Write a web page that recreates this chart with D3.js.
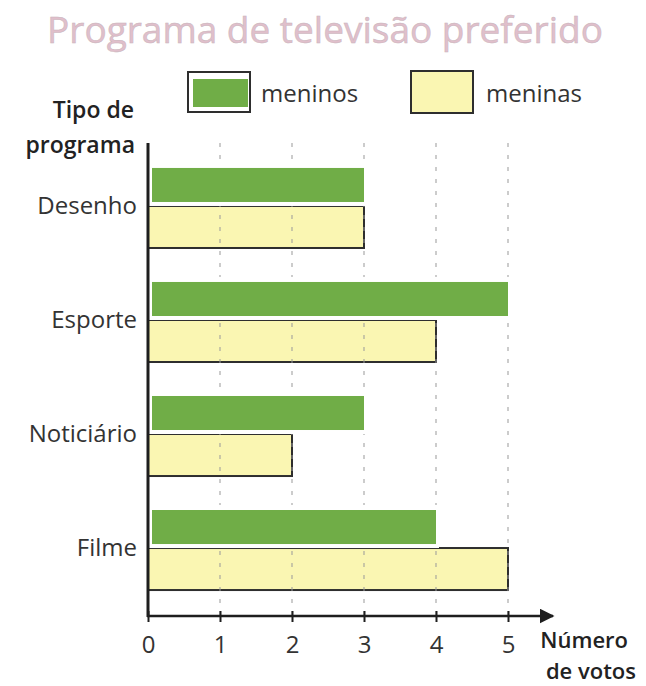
<!DOCTYPE html>
<html>
<head>
<meta charset="utf-8">
<script src="https://cdn.jsdelivr.net/npm/d3@7"></script>
<style>
  body { margin: 0; background: #fff; }
  text { font-family: "Open Sans", "Noto Sans", sans-serif; }
</style>
</head>
<body>
<div id="chart"></div>
<script>
// data
var categories = ["Desenho", "Esporte", "Noticiário", "Filme"];
var series = ["meninos", "meninas"];
var meninos = [3, 5, 3, 4];
var meninas = [3, 4, 2, 5];
var xTicks = [0, 1, 2, 3, 4, 5];

var W = 646, H = 686;
var green = "#70ad47", yellow = "#faf6b2", ink = "#2e2e2e";

var svg = d3.select("#chart")
    .append("svg")
    .attr("width", W)
    .attr("height", H);

var x = d3.scaleLinear().domain([0, 5]).range([148, 508]);

var y = d3.scaleBand()
    .domain(categories)
    .range([148, 606])
    .paddingInner(0.263)
    .paddingOuter(0.14);

var ySub = d3.scaleBand()
    .domain(series)
    .range([0, y.bandwidth()]);

var axisY = 616;

// title
svg.append("text")
    .attr("x", 325)
    .attr("y", 43)
    .attr("text-anchor", "middle")
    .attr("font-size", 37)
    .attr("fill", "#e0bfcb")
    .attr("stroke", "#c8b4bb")
    .attr("stroke-width", 0.5)
    .text("Programa de televisão preferido");

// legend
var legend = [
  {name: "meninos", bx: 188, tx: 261},
  {name: "meninas", bx: 411, tx: 486}
];
legend.forEach(function(d){
  var g = svg.append("g");
  if (d.name === "meninos") {
    g.append("rect").attr("x", d.bx).attr("y", 72).attr("width", 62).attr("height", 40)
      .attr("fill", "#fff").attr("stroke", ink).attr("stroke-width", 2);
    g.append("rect").attr("x", d.bx + 5).attr("y", 79).attr("width", 55).attr("height", 28)
      .attr("fill", green);
  } else {
    g.append("rect").attr("x", d.bx).attr("y", 71).attr("width", 62).attr("height", 42)
      .attr("fill", yellow).attr("stroke", ink).attr("stroke-width", 2);
  }
  g.append("text")
    .attr("x", d.tx)
    .attr("y", 102)
    .attr("font-size", 24)
    .attr("fill", "#333")
    .text(d.name);
});

// axis titles
svg.append("text")
    .attr("x", 134).attr("y", 118)
    .attr("text-anchor", "end")
    .attr("font-size", 23).attr("font-weight", 600).attr("fill", "#222")
    .text("Tipo de");
svg.append("text")
    .attr("x", 135).attr("y", 153)
    .attr("text-anchor", "end")
    .attr("font-size", 23).attr("font-weight", 600).attr("fill", "#222")
    .text("programa");

svg.append("text")
    .attr("x", 628).attr("y", 648)
    .attr("text-anchor", "end")
    .attr("font-size", 22).attr("font-weight", 600).attr("fill", "#222")
    .text("Número");
svg.append("text")
    .attr("x", 636).attr("y", 679)
    .attr("text-anchor", "end")
    .attr("font-size", 22).attr("font-weight", 600).attr("fill", "#222")
    .text("de votos");

// yellow bars (meninas)
svg.append("g")
  .selectAll("rect")
  .data(categories)
  .join("rect")
    .attr("x", x(0))
    .attr("y", function(d){ return y(d) + ySub("meninas"); })
    .attr("width", function(d, i){ return x(meninas[i]) - x(0); })
    .attr("height", ySub.bandwidth())
    .attr("fill", yellow)
    .attr("stroke", ink)
    .attr("stroke-width", 2);

// dashed grid
svg.append("g")
  .selectAll("line")
  .data(xTicks.slice(1))
  .join("line")
    .attr("x1", function(d){ return x(d); })
    .attr("x2", function(d){ return x(d); })
    .attr("y1", 143)
    .attr("y2", axisY)
    .attr("stroke", "#999")
    .attr("stroke-width", 1)
    .attr("stroke-dasharray", "4,8");

// green bars (meninos) with white edge
var gb = svg.append("g")
  .selectAll("g")
  .data(categories)
  .join("g");
gb.append("rect")
    .attr("x", x(0) - 1)
    .attr("y", function(d){ return y(d) + ySub("meninos") - 1; })
    .attr("width", function(d, i){ return x(meninos[i]) - x(0) + 4; })
    .attr("height", ySub.bandwidth() + 1)
    .attr("fill", "#fff");
gb.append("rect")
    .attr("x", x(0) + 4)
    .attr("y", function(d){ return y(d) + ySub("meninos") + 4; })
    .attr("width", function(d, i){ return x(meninos[i]) - x(0) - 4; })
    .attr("height", ySub.bandwidth() - 8)
    .attr("fill", green);

// category labels
svg.append("g")
  .selectAll("text")
  .data(categories)
  .join("text")
    .attr("x", 137)
    .attr("y", function(d){ return y(d) + ySub.bandwidth(); })
    .attr("dy", "0.33em")
    .attr("text-anchor", "end")
    .attr("font-size", 24)
    .attr("fill", "#333")
    .text(function(d){ return d; });

// y axis line
svg.append("line")
    .attr("x1", x(0)).attr("x2", x(0))
    .attr("y1", 143).attr("y2", axisY + 1)
    .attr("stroke", "#1e1e1e")
    .attr("stroke-width", 3);

// x axis with arrow
svg.append("defs").append("marker")
    .attr("id", "arrow")
    .attr("viewBox", "0 0 10 10")
    .attr("refX", 9).attr("refY", 5)
    .attr("markerWidth", 6).attr("markerHeight", 6)
    .attr("markerUnits", "strokeWidth")
    .attr("orient", "auto")
  .append("path")
    .attr("d", "M0,0L10,5L0,10z")
    .attr("fill", "#1e1e1e");

svg.append("line")
    .attr("x1", x(0) - 1).attr("x2", 553)
    .attr("y1", axisY).attr("y2", axisY)
    .attr("stroke", "#1e1e1e")
    .attr("stroke-width", 2.5)
    .attr("marker-end", "url(#arrow)");

var xAxis = svg.append("g")
    .attr("transform", "translate(0," + axisY + ")")
    .call(d3.axisBottom(x).tickValues(xTicks).tickFormat(d3.format("d")).tickSize(6));
xAxis.select(".domain").remove();
xAxis.selectAll(".tick line")
    .attr("y1", -5).attr("y2", 6)
    .attr("stroke", "#1e1e1e")
    .attr("stroke-width", 2);
xAxis.selectAll(".tick text")
    .attr("y", 20)
    .attr("dy", "0.71em")
    .attr("font-size", 24)
    .attr("font-family", "'Open Sans', 'Noto Sans', sans-serif")
    .attr("fill", "#333");
</script>
</body>
</html>
